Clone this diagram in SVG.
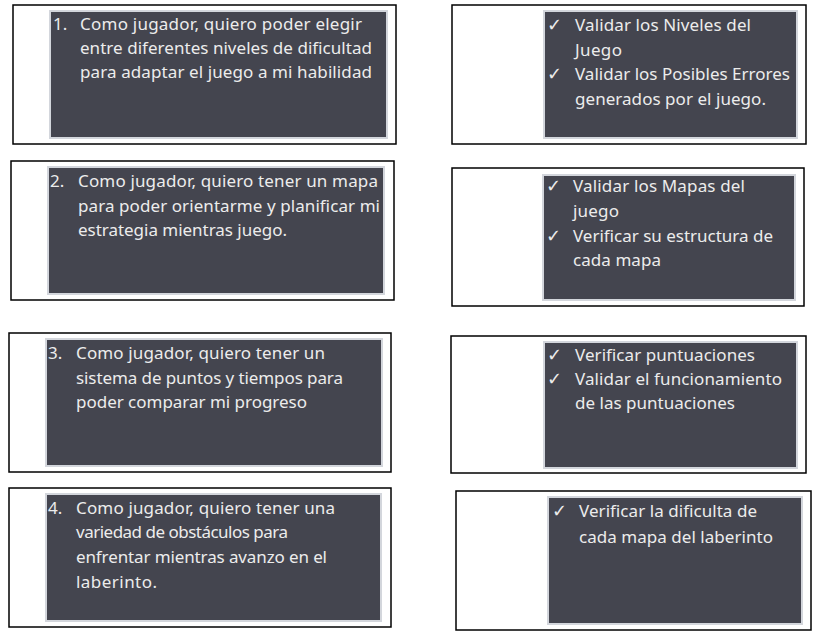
<svg xmlns="http://www.w3.org/2000/svg" width="821" height="633" viewBox="0 0 821 633">
<style>
.outer{fill:#ffffff;stroke:#000000;stroke-width:1.5}
.inner{fill:#44454f;stroke:#d3d6dc;stroke-width:2}
.t{font-family:"Noto Sans","Open Sans","DejaVu Sans",sans-serif;font-size:17px;fill:#ececec}
.ck{font-family:"DejaVu Sans","Noto Sans",sans-serif;font-size:18px;fill:#ececec}
</style>
<rect width="821" height="633" fill="#ffffff"/>
<g id="connectors"></g>
<g id="story1">
<rect class="outer" x="13" y="5" width="383" height="139"/>
<rect class="inner" x="50" y="11" width="337" height="127"/>
<text class="t" x="53" y="29.5">1.</text>
<text class="t" x="80" y="29.5" textLength="282">Como jugador, quiero poder elegir</text>
<text class="t" x="80" y="53.5" textLength="292">entre diferentes niveles de dificultad</text>
<text class="t" x="80" y="78" textLength="292">para adaptar el juego a mi habilidad</text>
</g>
<g id="test1">
<rect class="outer" x="452" y="5" width="354" height="139"/>
<rect class="inner" x="544" y="11" width="253" height="127"/>
<text class="ck" x="547" y="31">✓</text>
<text class="t" x="575" y="31" textLength="176">Validar los Niveles del</text>
<text class="t" x="575" y="55.5" textLength="47">Juego</text>
<text class="ck" x="547" y="80">✓</text>
<text class="t" x="575" y="80" textLength="215">Validar los Posibles Errores</text>
<text class="t" x="575" y="104.5" textLength="191">generados por el juego.</text>
</g>
<g id="story2">
<rect class="outer" x="11" y="161" width="383" height="139"/>
<rect class="inner" x="48" y="167" width="336" height="127"/>
<text class="t" x="50" y="187">2.</text>
<text class="t" x="78" y="187" textLength="300">Como jugador, quiero tener un mapa</text>
<text class="t" x="78" y="212" textLength="302">para poder orientarme y planificar mi</text>
<text class="t" x="78" y="236" textLength="209">estrategia mientras juego.</text>
</g>
<g id="test2">
<rect class="outer" x="452" y="168" width="352" height="138"/>
<rect class="inner" x="543" y="175" width="252" height="125"/>
<text class="ck" x="546" y="192">✓</text>
<text class="t" x="573" y="192" textLength="172">Validar los Mapas del</text>
<text class="t" x="573" y="217" textLength="46">juego</text>
<text class="ck" x="546" y="242">✓</text>
<text class="t" x="573" y="242" textLength="200">Verificar su estructura de</text>
<text class="t" x="573" y="266" textLength="88">cada mapa</text>
</g>
<g id="story3">
<rect class="outer" x="9" y="333" width="382" height="139"/>
<rect class="inner" x="46" y="339" width="336" height="127"/>
<text class="t" x="48" y="359">3.</text>
<text class="t" x="76" y="359" textLength="249">Como jugador, quiero tener un</text>
<text class="t" x="76" y="384" textLength="267">sistema de puntos y tiempos para</text>
<text class="t" x="76" y="408" textLength="231">poder comparar mi progreso</text>
</g>
<g id="test3">
<rect class="outer" x="451" y="336" width="355" height="137"/>
<rect class="inner" x="544" y="342" width="253" height="126"/>
<text class="ck" x="547" y="361">✓</text>
<text class="t" x="575" y="361" textLength="180">Verificar puntuaciones</text>
<text class="ck" x="547" y="385">✓</text>
<text class="t" x="575" y="385" textLength="207">Validar el funcionamiento</text>
<text class="t" x="575" y="409" textLength="160">de las puntuaciones</text>
</g>
<g id="story4">
<rect class="outer" x="9" y="488" width="382" height="139"/>
<rect class="inner" x="46" y="494" width="335" height="127"/>
<text class="t" x="48" y="514">4.</text>
<text class="t" x="76" y="514" textLength="259">Como jugador, quiero tener una</text>
<text class="t" x="76" y="538" textLength="212">variedad de obstáculos para</text>
<text class="t" x="76" y="563" textLength="251">enfrentar mientras avanzo en el</text>
<text class="t" x="76" y="588" textLength="81">laberinto.</text>
</g>
<g id="test4">
<rect class="outer" x="456" y="491" width="355" height="139"/>
<rect class="inner" x="548" y="497" width="254" height="127"/>
<text class="ck" x="552" y="517">✓</text>
<text class="t" x="579" y="517" textLength="178">Verificar la dificulta de</text>
<text class="t" x="579" y="543" textLength="194">cada mapa del laberinto</text>
</g>
</svg>
